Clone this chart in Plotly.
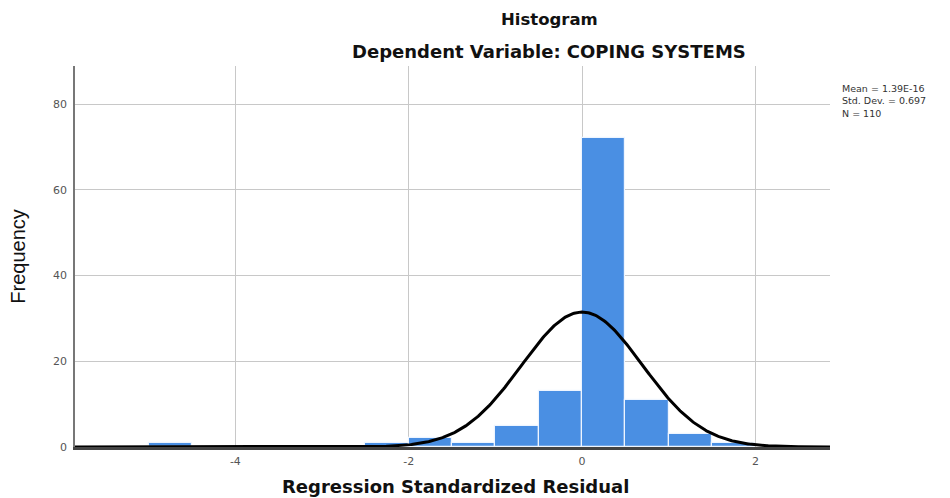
import numpy as np
import plotly.graph_objects as go

# Histogram data
bin_left = [-5.0, -2.5, -2.0, -1.5, -1.0, -0.5, 0.0, 0.5, 1.0, 1.5]
counts = [1, 1, 2, 1, 5, 13, 72, 11, 3, 1]
bin_width = 0.5

# Stated statistics
mean_val = 1.39e-16
std_val = 0.697
n_val = 110
stat_lines = ["Mean = 1.39E-16", "Std. Dev. = 0.697", "N = 110"]

x_ticks = [-4, -2, 0, 2]
y_ticks = [0, 20, 40, 60, 80]

centers = [b + bin_width / 2 for b in bin_left]

x_range = [-5.85, 2.86]
y_range = [0, 88.9]

xs = np.linspace(x_range[0], x_range[1], 600)
ys = n_val * bin_width / (std_val * np.sqrt(2 * np.pi)) * np.exp(-0.5 * ((xs - mean_val) / std_val) ** 2)

W, H = 950, 498
L, R, T, B = 75, 120, 66, 51
PW, PH = W - L - R, H - T - B


def px_x(x):
    return (x - L) / PW


def px_y(y):
    return (H - B - y) / PH


WIDE = "DejaVu Sans, Verdana, sans-serif"
NARROW = "Liberation Sans Narrow, Arial Narrow, Liberation Sans, sans-serif"

fig = go.Figure()
fig.add_trace(go.Bar(
    x=centers, y=counts, width=bin_width,
    marker=dict(color="#4a8fe3", line=dict(color="#eef5ff", width=1.2)),
    showlegend=False, hoverinfo="x+y",
))
fig.add_trace(go.Scatter(
    x=xs, y=ys, mode="lines",
    line=dict(color="#000000", width=3),
    showlegend=False, hoverinfo="skip",
))

annotations = [
    dict(text="<b>Histogram</b>", x=px_x(549), y=px_y(20),
         font=dict(size=16.5, color="#111", family=WIDE)),
    dict(text="<b>Dependent Variable: COPING SYSTEMS</b>", x=px_x(549), y=px_y(52),
         font=dict(size=18, color="#111", family=WIDE)),
    dict(text="<b>Regression Standardized Residual</b>", x=px_x(455), y=px_y(486),
         font=dict(size=18, color="#111", family=WIDE)),
    dict(text="<br>".join(stat_lines), x=px_x(840), y=px_y(101), xanchor="left", align="left",
         font=dict(size=9.5, color="#333", family=WIDE)),
]
for a in annotations:
    a.update(xref="paper", yref="paper", showarrow=False)
    a.setdefault("xanchor", "center")
    a["yanchor"] = "middle"

fig.update_layout(
    width=W, height=H,
    margin=dict(l=L, r=R, t=T, b=B),
    paper_bgcolor="white", plot_bgcolor="white",
    font=dict(family=WIDE, color="#222"),
    bargap=0,
    xaxis=dict(
        range=x_range, tickvals=x_ticks, ticktext=[str(v) for v in x_ticks],
        showgrid=True, gridcolor="#c8c8c8", gridwidth=1,
        zeroline=False, showline=True, linecolor="#444", linewidth=2.5,
        ticks="", ticklabelstandoff=2,
        tickfont=dict(size=11, color="#555", family=WIDE),
    ),
    yaxis=dict(
        range=y_range, tickvals=y_ticks, ticktext=[str(v) for v in y_ticks],
        showgrid=True, gridcolor="#c8c8c8", gridwidth=1,
        zeroline=False, showline=True, linecolor="#777", linewidth=1.5,
        ticks="", ticklabelstandoff=4,
        tickfont=dict(size=11, color="#555", family=WIDE),
        title=dict(text="Frequency", font=dict(size=20, color="#111", family=NARROW), standoff=22),
    ),
    annotations=annotations,
)

fig.write_html("out.html")
